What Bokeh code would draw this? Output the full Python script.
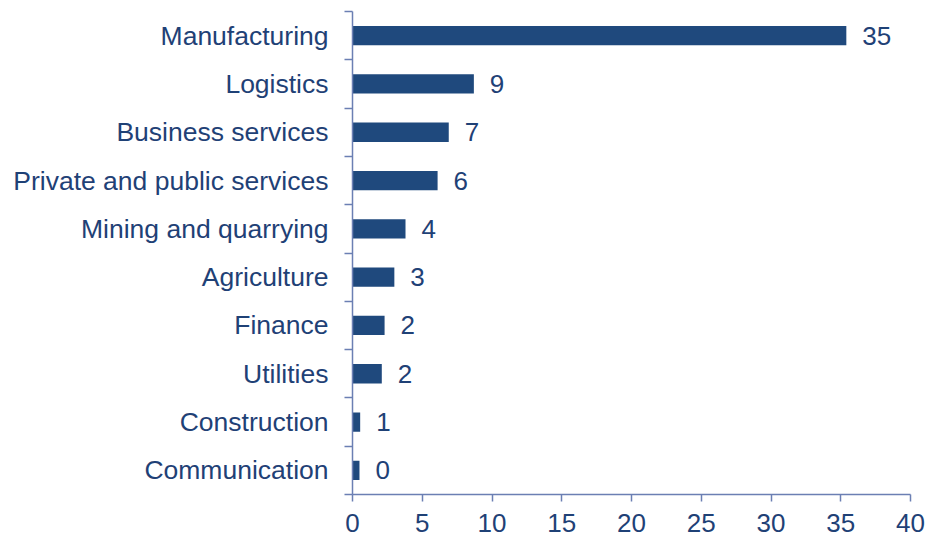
import numpy as np
from bokeh.plotting import figure
from bokeh.models import ColumnDataSource, FixedTicker, Range1d
from bokeh.core.properties import value
from bokeh.embed import file_html
from bokeh.resources import INLINE

# Data (bottom to top)
categories = ["Communication", "Construction", "Utilities", "Finance", "Agriculture",
              "Mining and quarrying", "Private and public services", "Business services",
              "Logistics", "Manufacturing"]
values = [0.5, 0.55, 2.1, 2.3, 3.0, 3.8, 6.1, 6.9, 8.7, 35.4]
value_labels = ["0", "1", "2", "2", "3", "4", "6", "7", "9", "35"]
x_ticks = [0, 5, 10, 15, 20, 25, 30, 35, 40]

BAR = "#1F497D"
TXT = "#1F4176"
AXIS = "#6B7FB3"
FONT = "Liberation Sans"
FS = "26px"

n = len(categories)
ypos = np.arange(n) + 0.5
src = ColumnDataSource(dict(y=ypos, v=values, lab=value_labels))

p = figure(width=928, height=537, output_backend="svg", toolbar_location=None,
           x_range=Range1d(0, 40), y_range=Range1d(0, n),
           min_border_left=352, min_border_right=18, min_border_top=11, min_border_bottom=43)

p.hbar(y="y", right="v", left=0, height=0.4, source=src, color=BAR, line_color=None)
p.text(x="v", y="y", text="lab", source=src, x_offset=16, text_baseline="middle",
       text_align="left", text_font=value(FONT), text_font_size=FS, text_color=TXT)

p.xgrid.visible = False
p.ygrid.visible = False
p.outline_line_color = None
p.background_fill_color = "white"
p.border_fill_color = "white"

# x axis
xa = p.xaxis[0]
xa.ticker = FixedTicker(ticks=x_ticks)
xa.axis_line_color = AXIS
xa.axis_line_width = 1.5
xa.major_tick_line_color = AXIS
xa.major_tick_line_width = 1.5
xa.major_tick_in = 0
xa.major_tick_out = 7
xa.minor_tick_line_color = None
xa.major_label_standoff = 12
xa.major_label_text_font = FONT
xa.major_label_text_font_size = FS
xa.major_label_text_color = TXT

# y axis: labels at category centers, ticks between categories
ya = p.yaxis[0]
ya.ticker = FixedTicker(ticks=list(ypos), minor_ticks=list(range(n + 1)))
ya.major_label_overrides = {float(y): c for y, c in zip(ypos, categories)}
ya.axis_line_color = AXIS
ya.axis_line_width = 1.5
ya.major_tick_line_color = None
ya.major_tick_in = 0
ya.major_tick_out = 8
ya.minor_tick_line_color = AXIS
ya.minor_tick_line_width = 1.5
ya.minor_tick_in = 0
ya.minor_tick_out = 8
ya.major_label_standoff = 16
ya.major_label_text_font = FONT
ya.major_label_text_font_size = "26.5px"
ya.major_label_text_color = TXT

open("out.html", "w").write(file_html(p, INLINE))
